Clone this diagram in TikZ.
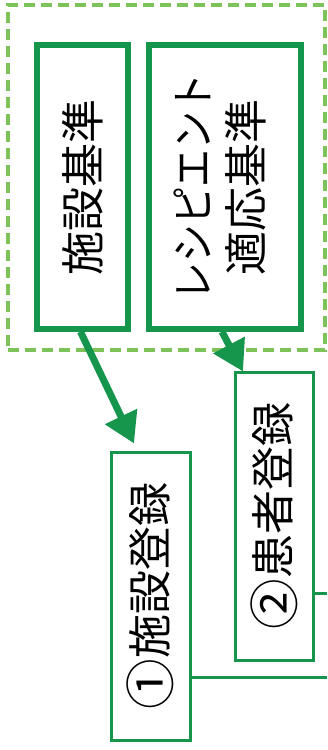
\documentclass[tikz,border=0pt]{standalone}
\usepackage{fontspec}
\newfontfamily\jp{Noto Sans CJK JP}
\usetikzlibrary{arrows.meta,calc}
\definecolor{dgreen}{RGB}{22,150,76}
\definecolor{lgreen}{RGB}{125,195,90}
\begin{document}
\begin{tikzpicture}[x=1pt,y=-1pt,
  bigbox/.style={draw=dgreen,line width=5.5pt,inner sep=0pt,font=\jp\fontsize{44}{53}\selectfont},
  smallbox/.style={draw=dgreen,line width=3pt,inner sep=0pt,font=\jp\fontsize{44}{53}\selectfont},
  arr/.style={draw=dgreen,line width=7pt,-{Triangle[length=30pt,width=34pt]}},
  link/.style={draw=dgreen,line width=3pt},
  group/.style={draw=lgreen,line width=4pt,dash pattern=on 11pt off 6pt}]
\useasboundingbox[fill=white] (0,0) rectangle (327,750);
\node[group,minimum width=317pt,minimum height=345pt,inner sep=0pt] (grp) at (166.5,177.5) {};
\node[bigbox,minimum width=91pt,minimum height=284pt] (b1) at (82.5,187) {\rotatebox{90}{施設基準}};
\node[bigbox,minimum width=152pt,minimum height=284pt] (b2) at (225,187)
  {\rotatebox{90}{\begin{tabular}{@{}c@{}}\scalebox{0.86}[1]{レシピエント}\\[-0pt]適応基準\end{tabular}}};
\node[smallbox,minimum width=79pt,minimum height=288pt] (b3) at (150.5,596) {\rotatebox{90}{\raisebox{-0.08em}{\scalebox{1.15}{①}}施設登録}};
\node[smallbox,minimum width=78pt,minimum height=288pt] (b4) at (274,516) {\rotatebox{90}{\raisebox{-0.08em}{\scalebox{1.15}{②}}患者登録}};
\coordinate (r4) at (327,593);
\coordinate (r3) at (327,677);
\draw[link] ($(b4.east)+(0,77)$) -- (r4);
\draw[link] ($(b3.east)+(0,81)$) -- (r3);
\draw[arr] ($(b1.south)+(-2,0)$) -- ($(b3.north)+(-16.5,-7)$);
\draw[arr] ($(b2.south)+(-3,0)$) -- ($(b4.north)+(-31,1)$);
\end{tikzpicture}
\end{document}
